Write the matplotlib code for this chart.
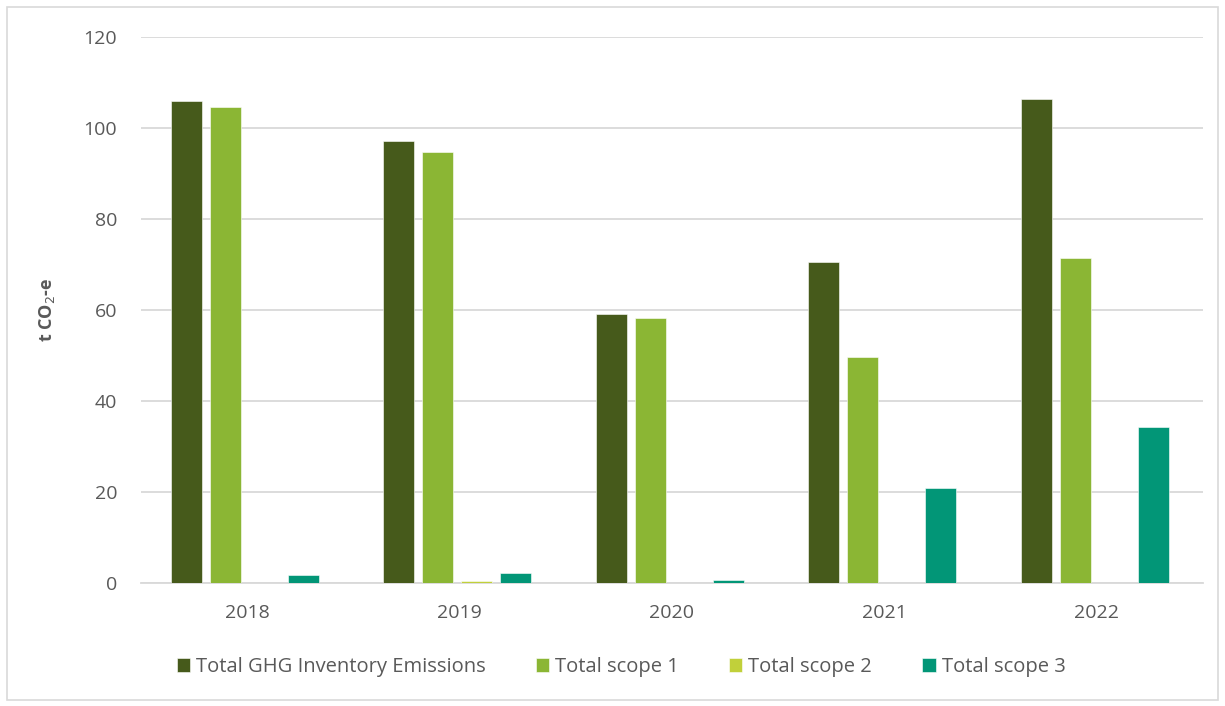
import numpy as np
import matplotlib
matplotlib.use("Agg")
import matplotlib.pyplot as plt
import matplotlib.patches as patches

plt.rcParams['font.family'] = ['Open Sans', 'DejaVu Sans']

# data
years = ['2018', '2019', '2020', '2021', '2022']
total_ghg = [105.9, 97.1, 59.1, 70.5, 106.4]
scope1 = [104.6, 94.7, 58.2, 49.7, 71.4]
scope2 = [0.0, 0.5, 0.0, 0.0, 0.0]
scope3 = [1.7, 2.2, 0.8, 20.9, 34.3]
series_names = ['Total GHG Inventory Emissions', 'Total scope 1', 'Total scope 2', 'Total scope 3']
colors = ['#465a1b', '#8bb634', '#c1d03a', '#029677']

fig = plt.figure(figsize=(12.25, 7.06), dpi=100)
ax = fig.add_axes([0.115, 0.174, 0.867, 0.7736])

x = np.arange(len(years))
step = 0.1835
width = 0.146
series = [total_ghg, scope1, scope2, scope3]
for i, (vals, name, c) in enumerate(zip(series, series_names, colors)):
    offs = (i - 1.5) * step - 0.01
    ax.bar(x + offs, vals, width, color=c, label=name, zorder=3,
           edgecolor='#ffffff', linewidth=0.4)

ax.set_xlim(-0.5, len(years) - 0.5)
ax.set_ylim(0, 120)
ax.set_yticks(np.arange(0, 121, 20))
ax.set_xticks(x)
ax.set_xticklabels(years)
ax.grid(axis='y', color='#d9d9d9', linewidth=1.3, zorder=0)
ax.tick_params(length=0, labelsize=14, colors='#595959')
ax.tick_params(axis='y', pad=17)
ax.tick_params(axis='x', pad=15)
for s in ['top', 'right', 'left']:
    ax.spines[s].set_visible(False)
ax.spines['bottom'].set_color('#d9d9d9')
ax.spines['bottom'].set_linewidth(1.3)

ax.set_ylabel('t CO$_2$-e', fontsize=13, fontweight='bold', color='#595959', labelpad=19)

leg = fig.legend(loc='center', bbox_to_anchor=(0.507, 0.055), ncol=4, frameon=False,
                 fontsize=14.5, handlelength=0.65, handleheight=0.65, handletextpad=0.3,
                 columnspacing=2.5, labelcolor='#595959')

# chart area border
fig.patches.append(patches.Rectangle((0.006, 0.008), 0.988, 0.982, transform=fig.transFigure,
                                     fill=False, edgecolor='#d9d9d9', linewidth=1.2))

fig.savefig('out.png', dpi=100)
